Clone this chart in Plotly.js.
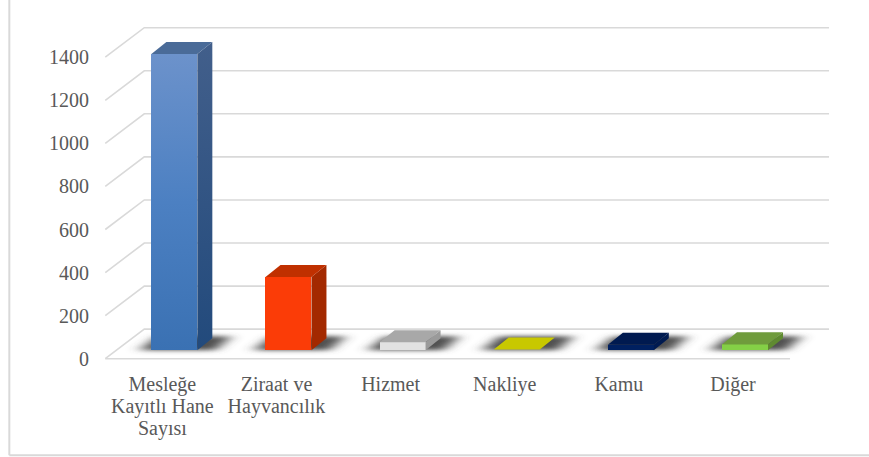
<!DOCTYPE html>
<html><head><meta charset="utf-8">
<script src="https://cdn.plot.ly/plotly-3.0.1.min.js"></script>
<style>html,body{margin:0;padding:0;background:#fff;overflow:hidden}</style>
</head><body><div id="chart" style="width:869px;height:457px"></div>
<script>
const categories = ['Mesleğe<br>Kayıtlı Hane<br>Sayısı', 'Ziraat ve<br>Hayvancılık', 'Hizmet', 'Nakliye', 'Kamu', 'Diğer'];
const values = [1375, 340, 37, 3, 25, 27];
const yTicks = [0, 200, 400, 600, 800, 1000, 1200, 1400];
const frontColors = ['#4a7fc0', '#fb3c07', '#e2e2e2', '#cfcf00', '#002060', '#84d046'];
const topColors = ['#4a6b98', '#c03000', '#a8a8a8', '#c8c800', '#001a50', '#6f9b3c'];
const sideColors = ['#36598a', '#a32900', '#9a9a9a', '#b4b400', '#001a50', '#5f8a30'];

// 3D projection, in axis units
const pxX = 114.17, pxY = 0.215;
const barW = 46 / pxX, barDX = 12 / pxX, barDY = 8.5 / pxY;
const depthX = 15 / pxX, depthY = 12 / pxY;
const wallX = 39 / pxX, wallY = 29.5 / pxY;
const idx = values.map((_, i) => i);

const traces = [{
  type: 'bar', x: idx.map(i => i + barDX), y: values, base: values.map(() => barDY),
  width: barW, marker: {color: frontColors, line: {width: 0}}, hoverinfo: 'skip', showlegend: false
}];
idx.forEach(i => {
  const l = i + barDX - barW / 2, r = l + barW, b = barDY, t = barDY + values[i];
  traces.push({type: 'scatter', mode: 'lines', fill: 'toself', fillcolor: sideColors[i], line: {width: 0},
    x: [r, r + depthX, r + depthX, r, r], y: [b, b + depthY, t + depthY, t, b], hoverinfo: 'skip', showlegend: false});
  traces.push({type: 'scatter', mode: 'lines', fill: 'toself', fillcolor: topColors[i], line: {width: 0},
    x: [l, r, r + depthX, l + depthX, l], y: [t, t, t + depthY, t + depthY, t], hoverinfo: 'skip', showlegend: false});
});

const shapes = [];
idx.forEach(i => {
  const l = i + barDX - barW / 2;
  const s = (a, v) => `${l + a / pxX},${barDY + v / pxY}`;
  shapes.push({type: 'path', layer: 'below', xref: 'x', yref: 'y', fillcolor: '#505050', line: {width: 0},
    path: `M${s(-12, 0)} L${s(64, 0)} L${s(80, 14)} L${s(6, 14)} Z`});
});
const gridStyle = {color: '#d9d9d9', width: 1.6};
yTicks.forEach(v => {
  shapes.push({type: 'path', layer: 'below', xref: 'x', yref: 'y', line: gridStyle,
    path: `M-0.5,${v} L${-0.5 + wallX},${v + wallY} L${5.5 + wallX},${v + wallY}`});
});
shapes.push({type: 'line', layer: 'below', xref: 'x', yref: 'y', x0: -0.5, x1: 5.5, y0: 0, y1: 0, line: gridStyle});

// chart frame (page pixels -> paper fractions)
const mL = 102.7, mR = 39.1, mT = 26.3, mB = 97.2, W = 869, H = 457;
const fx = p => (p - mL) / (W - mL - mR), fy = p => 1 - (p - mT) / (H - mT - mB);
const frame = {color: '#d9d9d9', width: 2};
shapes.push({type: 'line', layer: 'below', xref: 'paper', yref: 'paper', x0: fx(9), x1: fx(9), y0: fy(0), y1: fy(455), line: frame});
shapes.push({type: 'line', layer: 'below', xref: 'paper', yref: 'paper', x0: fx(9), x1: fx(869), y0: fy(455), y1: fy(455), line: frame});

const tickFont = {family: '"Liberation Serif", serif', size: 20, color: '#595959'};
const layout = {
  width: W, height: H, autosize: false, showlegend: false,
  paper_bgcolor: '#fff', plot_bgcolor: 'rgba(0,0,0,0)',
  margin: {l: mL, r: mR, t: mT, b: mB, pad: 0},
  xaxis: {range: [-0.52, 5.85], tickmode: 'array', tickvals: idx, ticktext: categories, showgrid: false, zeroline: false,
    showline: false, ticks: 'outside', ticklen: 6, tickcolor: 'rgba(0,0,0,0)', tickfont: tickFont, tickangle: 0, fixedrange: true},
  yaxis: {range: [-6, 1545], tickmode: 'array', tickvals: yTicks, showgrid: false, zeroline: false,
    showline: false, ticks: 'outside', ticklen: 9, tickcolor: 'rgba(0,0,0,0)', tickfont: tickFont, fixedrange: true},
  bargap: 0, shapes: shapes
};

const gd = document.getElementById('chart');
Plotly.newPlot(gd, traces, layout, {staticPlot: true, displayModeBar: false}).then(() => {
  const svg = gd.querySelector('svg.main-svg');
  const NS = 'http://www.w3.org/2000/svg';
  const defs = document.createElementNS(NS, 'defs');
  defs.innerHTML =
    '<filter id="blurShadow" filterUnits="userSpaceOnUse" x="0" y="0" width="869" height="457"><feGaussianBlur stdDeviation="7 2"/></filter>' +
    '<linearGradient id="gradFront" x1="0" y1="0" x2="0" y2="1"><stop offset="0" stop-color="#6c92cb"/><stop offset="0.5" stop-color="#4c80c2"/><stop offset="1" stop-color="#3a71b3"/></linearGradient>' +
    '<linearGradient id="gradSide" x1="0" y1="0" x2="0" y2="1"><stop offset="0" stop-color="#425f8b"/><stop offset="1" stop-color="#224a7c"/></linearGradient>';
  svg.insertBefore(defs, svg.firstChild);
  gd.querySelectorAll('.shapelayer path[data-index]').forEach(p => {
    if (+p.getAttribute('data-index') < values.length) p.setAttribute('filter', 'url(#blurShadow)');
  });
  const front = gd.querySelector('.barlayer .point path');
  if (front) front.style.fill = 'url(#gradFront)';
  const side = gd.querySelector('.scatterlayer .trace .js-fill');
  if (side) side.style.fill = 'url(#gradSide)';
  // tighter line spacing for the wrapped category labels
  gd.querySelectorAll('.xtick text tspan.line').forEach(t => {
    const n = parseFloat(t.getAttribute('dy')) || 0;
    t.setAttribute('dy', (n / 1.3 * 1.1) + 'em');
  });
});
</script></body></html>
